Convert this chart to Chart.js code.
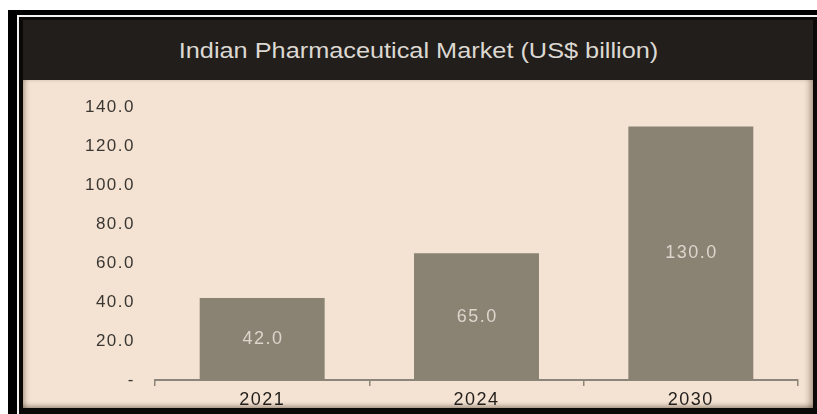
<!DOCTYPE html>
<html>
<head>
<meta charset="utf-8">
<script src="https://cdn.jsdelivr.net/npm/chart.js@4/dist/chart.umd.min.js"></script>
<style>
  html, body { margin: 0; padding: 0; background: #ffffff; }
  body { width: 817px; height: 414px; position: relative; overflow: hidden; font-family: "Liberation Sans", Arial, sans-serif; }
  .frame-outer { position: absolute; left: 8px; top: 10px; right: 0; bottom: 0; background: #000; }
  .frame-line { position: absolute; left: 17px; top: 15px; right: 0; bottom: 0; background: #f4f4f4; }
  .frame-inner { position: absolute; left: 19px; top: 17px; right: 0; bottom: 0; background: #0a0908; }
  .panel { position: absolute; left: 23px; top: 20px; width: 790px; height: 388px; }
  .header {
    height: 60px; background: #221e1b; color: #dcd8d2;
    font-size: 22px; line-height: 61px; text-align: center;
  }
  .header span { display: inline-block; transform: scaleX(1.15); }
  .plot {
    position: relative; width: 790px; height: 328px; background: #f4e3d3;
    box-shadow: inset 5px 0 5px -3px rgba(60,40,20,0.35),
                inset -6px 0 6px -3px rgba(60,40,20,0.4),
                inset 0 -5px 5px -3px rgba(60,40,20,0.4);
  }
  canvas { position: absolute; left: 0; top: 0; }
</style>
</head>
<body>
<div class="frame-outer"></div>
<div class="frame-line"></div>
<div class="frame-inner"></div>
<div class="panel">
  <div class="header"><span>Indian Pharmaceutical Market (US$ billion)</span></div>
  <div class="plot"><canvas id="chartMercado" width="790" height="333"></canvas></div>
</div>
<script>
  // Dados do mercado farmacêutico indiano (US$ bilhões)
  const anos = ["2021", "2024", "2030"];
  const valores = [42.0, 65.0, 130.0];
  const ticksY = [0, 20, 40, 60, 80, 100, 120, 140];

  const corBarra = "#8a8374";
  const fonte = "'Liberation Sans', Arial, sans-serif";

  // Espaçamento entre letras para todo o texto do canvas
  const espacamento = {
    id: "espacamento",
    beforeDraw(chart) {
      chart.ctx.letterSpacing = "1.5px";
    }
  };

  // Rótulo de valor no meio de cada barra
  const rotulosBarras = {
    id: "rotulosBarras",
    afterDatasetsDraw(chart) {
      const ctx = chart.ctx;
      const meta = chart.getDatasetMeta(0);
      ctx.save();
      ctx.font = "18px " + fonte;
      ctx.fillStyle = "#ddd5cb";
      ctx.textAlign = "center";
      ctx.textBaseline = "middle";
      meta.data.forEach(function(bar, i) {
        const meio = (bar.y + bar.base) / 2;
        ctx.fillText(valores[i].toFixed(1), bar.x + 0.75, meio);
      });
      ctx.restore();
    }
  };

  new Chart(document.getElementById("chartMercado"), {
    type: "bar",
    data: {
      labels: anos,
      datasets: [{
        data: valores,
        backgroundColor: corBarra,
        borderWidth: 0,
        barPercentage: 0.583,
        categoryPercentage: 1.0
      }]
    },
    options: {
      responsive: false,
      animation: false,
      layout: { padding: { top: 27, right: 15, left: 0, bottom: 0 } },
      plugins: {
        legend: { display: false },
        tooltip: { enabled: false }
      },
      scales: {
        x: {
          grid: {
            display: true,
            drawOnChartArea: false,
            drawTicks: true,
            tickLength: 6,
            color: "#8c857b",
            lineWidth: 1.5
          },
          border: { display: true, color: "#8c857b", width: 2 },
          ticks: {
            color: "#211e1b",
            font: { family: fonte, size: 18 },
            padding: 3
          },
          afterFit: function(scale) { scale.height = 33; }
        },
        y: {
          min: 0,
          max: 140,
          afterBuildTicks: function(scale) {
            scale.ticks = ticksY.map(function(v) { return { value: v }; });
          },
          grid: { display: false, drawTicks: false },
          border: { display: false },
          ticks: {
            color: "#3a3733",
            font: { family: fonte, size: 17 },
            padding: 20,
            callback: function(v) { return v === 0 ? "-" : Number(v).toFixed(1); }
          },
          afterFit: function(scale) {
            scale.width = 132;
            // sem folga extra acima/abaixo; o padding do layout controla a área
            scale.paddingTop = 0;
            scale.paddingBottom = 0;
          }
        }
      }
    },
    plugins: [espacamento, rotulosBarras]
  });
</script>
</body>
</html>
